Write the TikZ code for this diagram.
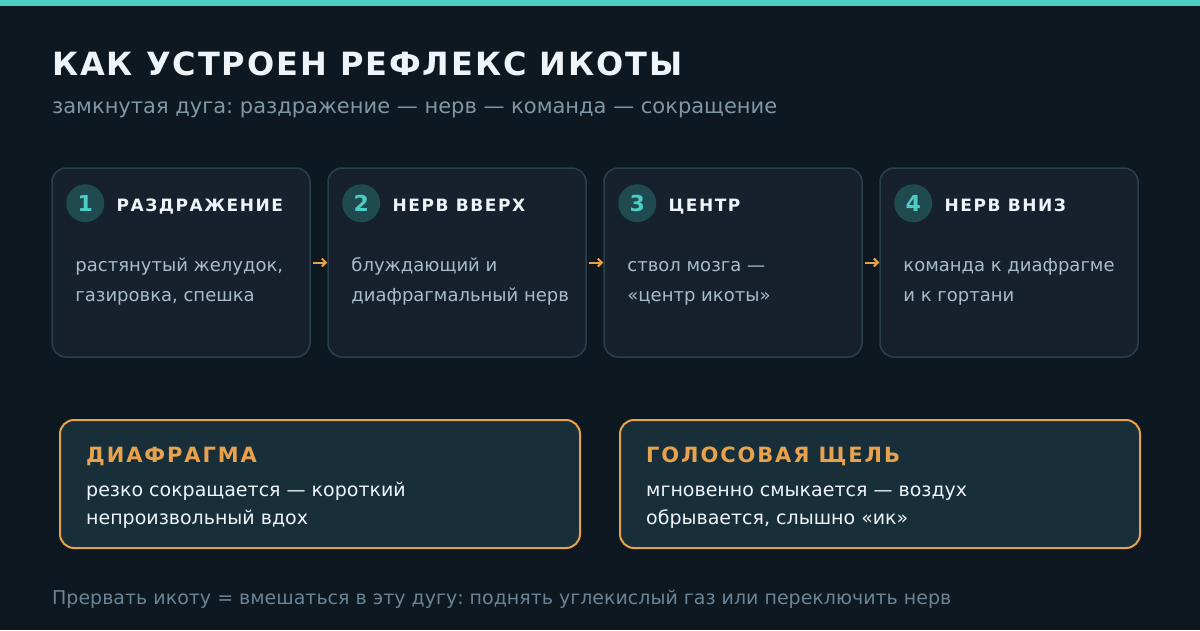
\documentclass[tikz,border=0pt]{standalone}
\usepackage{fontspec}
\setmainfont{DejaVu Sans}
\newfontfamily\spacedfont[LetterSpace=9]{DejaVu Sans}
\newfontfamily\titlefont[LetterSpace=6]{DejaVu Sans}
\usetikzlibrary{positioning,arrows.meta}
\definecolor{bgcol}{HTML}{0D1820}
\definecolor{teal}{HTML}{4ECDC4}
\definecolor{titlecol}{HTML}{EEF4F8}
\definecolor{subcol}{HTML}{8197A6}
\definecolor{cardfill}{HTML}{16212D}
\definecolor{cardline}{HTML}{2B3F4D}
\definecolor{numfill}{HTML}{1E4A50}
\definecolor{bodycol}{HTML}{A9BCCB}
\definecolor{orange}{HTML}{E8A24E}
\definecolor{boxfill}{HTML}{182F3A}
\definecolor{footcol}{HTML}{6C8494}
\frenchspacing
\begin{document}
\begin{tikzpicture}[x=1pt,y=-1pt,
  card/.style={draw=cardline,fill=cardfill,line width=1.5pt,rounded corners=14pt,
    minimum width=258pt,minimum height=189pt,inner sep=0pt},
  num/.style={circle,fill=numfill,minimum size=38pt,inner sep=0pt,text=teal,
    font=\bfseries\fontsize{22}{24}\selectfont},
  head/.style={inner sep=0pt,anchor=base west,text=titlecol,font=\spacedfont\bfseries\fontsize{17}{20}\selectfont},
  body/.style={inner sep=0pt,anchor=base west,align=left,text=bodycol,
    font=\fontsize{18}{30}\selectfont},
  arr/.style={-{Straight Barb[length=4pt,width=8pt]},draw=orange,line width=2pt},
  box/.style={draw=orange,fill=boxfill,line width=2pt,rounded corners=14pt,
    minimum width=520pt,minimum height=128pt,inner sep=0pt},
  boxhead/.style={inner sep=0pt,anchor=base west,text=orange,
    font=\spacedfont\bfseries\fontsize{21}{24}\selectfont},
  boxbody/.style={inner sep=0pt,anchor=base west,align=left,text=titlecol,
    font=\fontsize{19}{28}\selectfont}]
\fill[bgcol] (0,0) rectangle (1200,630);
\useasboundingbox (0,0) rectangle (1200,630);
\fill[teal] (0,0) rectangle (1200,6);
%
\node[inner sep=0pt,anchor=base west,text=titlecol,font=\titlefont\bfseries\fontsize{32}{36}\selectfont]
  (title) at (52,75) {КАК УСТРОЕН РЕФЛЕКС ИКОТЫ};
\node[inner sep=0pt,anchor=base west,text=subcol,font=\fontsize{21}{24}\selectfont]
  (sub) at (52,113) {замкнутая дуга: раздражение — нерв — команда — сокращение};
%
\node[card] (c1) at (181,262.5) {};
\node[card] (c2) at (457,262.5) {};
\node[card] (c3) at (733,262.5) {};
\node[card] (c4) at (1009,262.5) {};
%
\node[num] (n1) at ([xshift=34pt,yshift=-36pt]c1.north west) {1};
\node[head] (h1) at ([xshift=12pt,yshift=-8pt]n1.east) {РАЗДРАЖЕНИЕ};
\node[body] (t1) at ([xshift=24pt,yshift=-134pt]c1.north west) {растянутый желудок,\\газировка, спешка};
\node[num] (n2) at ([xshift=34pt,yshift=-36pt]c2.north west) {2};
\node[head] (h2) at ([xshift=12pt,yshift=-8pt]n2.east) {НЕРВ ВВЕРХ};
\node[body] (t2) at ([xshift=24pt,yshift=-134pt]c2.north west) {блуждающий и\\диафрагмальный нерв};
\node[num] (n3) at ([xshift=34pt,yshift=-36pt]c3.north west) {3};
\node[head] (h3) at ([xshift=12pt,yshift=-8pt]n3.east) {ЦЕНТР};
\node[body] (t3) at ([xshift=24pt,yshift=-134pt]c3.north west) {ствол мозга —\\«центр икоты»};
\node[num] (n4) at ([xshift=34pt,yshift=-36pt]c4.north west) {4};
\node[head] (h4) at ([xshift=12pt,yshift=-8pt]n4.east) {НЕРВ ВНИЗ};
\node[body] (t4) at ([xshift=24pt,yshift=-134pt]c4.north west) {команда к диафрагме\\и к гортани};
%
\draw[arr] ([xshift=2pt]c1.east) -- (c2.west);
\draw[arr] ([xshift=2pt]c2.east) -- (c3.west);
\draw[arr] ([xshift=2pt]c3.east) -- (c4.west);
%
\node[box] (b1) at (320,484) {};
\node[boxhead] (bh1) at ([xshift=27pt,yshift=-43pt]b1.north west) {ДИАФРАГМА};
\node[boxbody] (bt1) at ([xshift=27pt,yshift=-105pt]b1.north west) {резко сокращается — короткий\\непроизвольный вдох};
\node[box] (b2) at (880,484) {};
\node[boxhead] (bh2) at ([xshift=27pt,yshift=-43pt]b2.north west) {ГОЛОСОВАЯ ЩЕЛЬ};
\node[boxbody] (bt2) at ([xshift=27pt,yshift=-105pt]b2.north west) {мгновенно смыкается — воздух\\обрывается, слышно «ик»};
%
\node[inner sep=0pt,anchor=base west,text=footcol,font=\fontsize{19}{22}\selectfont]
  (foot) at (52,604) {Прервать икоту = вмешаться в эту дугу: поднять углекислый газ или переключить нерв};
\end{tikzpicture}
\end{document}
